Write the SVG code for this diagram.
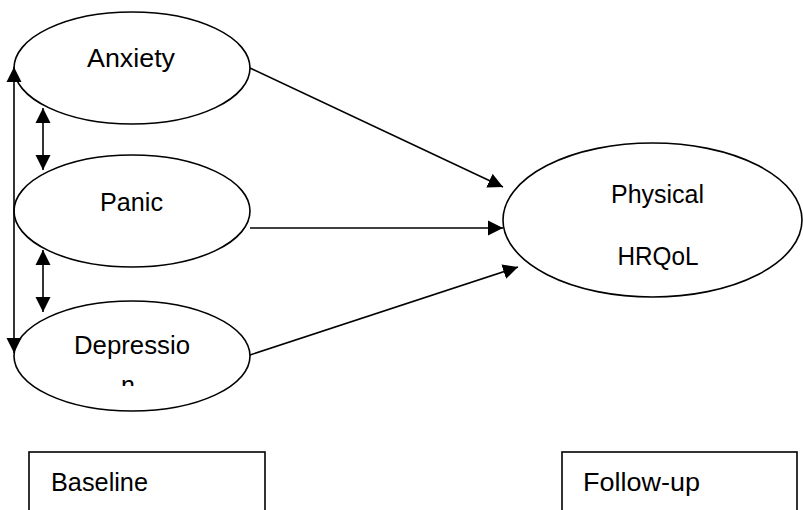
<svg xmlns="http://www.w3.org/2000/svg" width="803" height="510" viewBox="0 0 803 510">
  <style>
    .shape { fill: #ffffff; stroke: #000000; stroke-width: 1.6; }
    .label { font-family: "Liberation Sans", Arial, sans-serif; font-size: 25px; fill: #000000; }
    .mid { text-anchor: middle; }
    .link { fill: none; stroke: #000000; stroke-width: 1.6; }
  </style>
  <defs>
    <marker id="head" markerUnits="userSpaceOnUse" markerWidth="16" markerHeight="16" viewBox="0 0 16 16" refX="15" refY="8" orient="auto-start-reverse">
      <path d="M0,0.5 L15,8 L0,15.5 Z" fill="#000000"/>
    </marker>
    <clipPath id="depr-clip">
      <rect x="0" y="0" width="803" height="386"/>
    </clipPath>
  </defs>

  <rect width="803" height="510" fill="#ffffff"/>

  <!-- baseline predictors -->
  <g id="anxiety">
    <ellipse class="shape" cx="132" cy="68" rx="118" ry="56"/>
    <text class="label mid" x="131" y="67" textLength="88" lengthAdjust="spacingAndGlyphs">Anxiety</text>
  </g>
  <g id="panic">
    <ellipse class="shape" cx="132" cy="211" rx="118" ry="56"/>
    <text class="label mid" x="131.5" y="211" textLength="63" lengthAdjust="spacingAndGlyphs">Panic</text>
  </g>
  <g id="depression">
    <ellipse class="shape" cx="132" cy="356" rx="118" ry="55"/>
    <text class="label mid" x="132" y="354" textLength="116" lengthAdjust="spacingAndGlyphs">Depressio</text>
    <text class="label mid" x="128" y="394" clip-path="url(#depr-clip)">n</text>
  </g>

  <!-- outcome -->
  <g id="physical-hrqol">
    <ellipse class="shape" cx="652.5" cy="220" rx="149.5" ry="77"/>
    <text class="label mid" x="657.5" y="203" textLength="93" lengthAdjust="spacingAndGlyphs">Physical</text>
    <text class="label mid" x="658" y="265" textLength="81" lengthAdjust="spacingAndGlyphs">HRQoL</text>
  </g>

  <!-- time-point labels -->
  <g id="baseline">
    <rect class="shape" x="29" y="452" width="236" height="70"/>
    <text class="label" x="51" y="491" textLength="97" lengthAdjust="spacingAndGlyphs">Baseline</text>
  </g>
  <g id="follow-up">
    <rect class="shape" x="562" y="452" width="235" height="70"/>
    <text class="label" x="583" y="491" textLength="117" lengthAdjust="spacingAndGlyphs">Follow-up</text>
  </g>

  <!-- paths and correlations -->
  <g id="connectors">
    <line class="link" x1="250" y1="68" x2="503" y2="187" marker-end="url(#head)"/>
    <line class="link" x1="250" y1="228" x2="503" y2="228" marker-end="url(#head)"/>
    <line class="link" x1="250" y1="355" x2="518" y2="267" marker-end="url(#head)"/>
    <line class="link" x1="14" y1="67" x2="14" y2="353" marker-start="url(#head)" marker-end="url(#head)"/>
    <line class="link" x1="43" y1="108" x2="43" y2="170" marker-start="url(#head)" marker-end="url(#head)"/>
    <line class="link" x1="43" y1="250" x2="43" y2="312" marker-start="url(#head)" marker-end="url(#head)"/>
  </g>
</svg>
